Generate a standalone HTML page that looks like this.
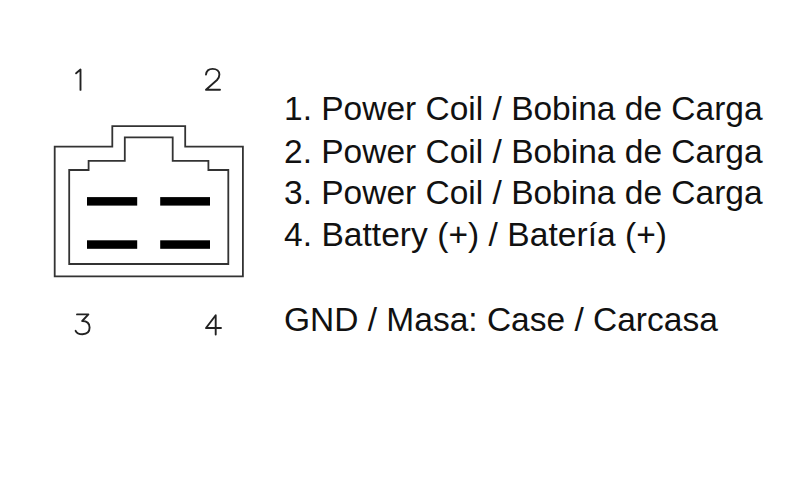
<!DOCTYPE html>
<html><head><meta charset="utf-8">
<style>
html,body{margin:0;padding:0;background:#fff;}
body{width:800px;height:490px;position:relative;overflow:hidden;}
svg{position:absolute;left:0;top:0;}
.t{position:absolute;left:284px;font-family:"Liberation Sans",sans-serif;font-size:33.5px;color:#111;white-space:nowrap;line-height:1;}
</style></head><body>
<svg width="800" height="490" viewBox="0 0 800 490">
 <g fill="none" stroke="#333" stroke-width="1.8" stroke-linejoin="miter">
  <path d="M54.7 276.3 V146.6 H112.3 V126.2 H185.2 V146.6 H242.9 V276.3 Z"/>
  <path d="M69.2 264 V170 H88.6 V160.8 H124.8 V137.3 H172.7 V160.8 H208.4 V170 H228.3 V264 Z"/>
 </g>
 <g fill="#000">
  <rect x="87" y="197.1" width="50.2" height="8.5"/>
  <rect x="160.2" y="197.1" width="49.8" height="8.5"/>
  <rect x="87" y="240.3" width="50.2" height="8.5"/>
  <rect x="160.2" y="240.3" width="49.8" height="8.5"/>
 </g>
 <g fill="none" stroke="#222" stroke-width="1.9" stroke-linecap="round" stroke-linejoin="round">
  <path d="M76.1 73.3 L80.5 69.6 V89.9"/>
  <path d="M206 74.5 C206.5 70.6 209.4 68.9 212.6 68.9 C216.8 68.9 219.4 71.4 219.4 74.6 C219.4 76.8 218.6 78.3 217 80 L206 89.8 H220"/>
  <path d="M77 314.4 H88.4 L82.2 321 Q89.6 321 89.6 327.6 Q89.6 334.2 82.5 334.2 Q77.2 334.2 75.6 330.8"/>
  <path d="M215.7 334.5 V315.2 L206 328 H221"/>
 </g>
</svg>
<div class="t" style="top:92px">1. Power Coil / Bobina de Carga</div>
<div class="t" style="top:134.5px">2. Power Coil / Bobina de Carga</div>
<div class="t" style="top:176px">3. Power Coil / Bobina de Carga</div>
<div class="t" style="top:218px;letter-spacing:0.05px">4. Battery (+) / Batería (+)</div>
<div class="t" style="top:303px">GND / Masa: Case / Carcasa</div>
</body></html>
